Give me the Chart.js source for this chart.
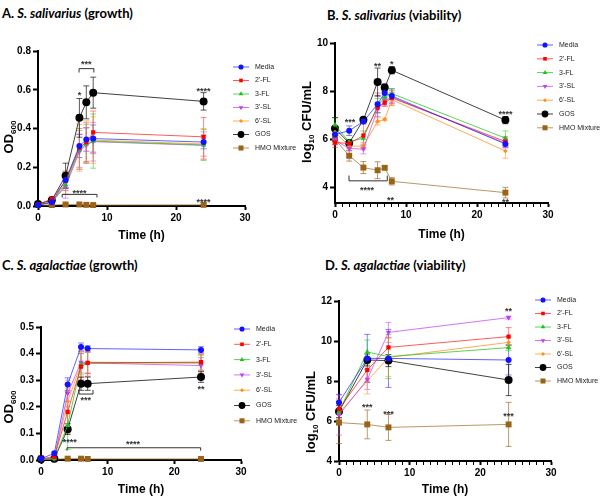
<!DOCTYPE html>
<html>
<head>
<meta charset="utf-8">
<script src="https://cdn.jsdelivr.net/npm/chart.js@4.4.1/dist/chart.umd.min.js"></script>
<style>
  body { margin:0; background:#fff; width:600px; height:497px; overflow:hidden; position:relative; font-family:'Liberation Sans', Arial, sans-serif; }
  canvas { position:absolute; }
  .ttl { position:absolute; font-family:Lato, 'Open Sans', sans-serif; font-weight:700; font-size:13px; white-space:nowrap; color:#000; line-height:16px; }
</style>
</head>
<body>
<div class="ttl" style="left:2px;top:5px">A. <i>S. salivarius</i> (growth)</div>
<div class="ttl" style="left:327px;top:7px">B. <i>S. salivarius</i> (viability)</div>
<div class="ttl" style="left:2px;top:257px">C. <i>S. agalactiae</i> (growth)</div>
<div class="ttl" style="left:325px;top:257px">D. <i>S. agalactiae</i> (viability)</div>
<canvas id="cA" width="300" height="225" style="left:0;top:25px"></canvas>
<canvas id="cB" width="300" height="225" style="left:300px;top:25px"></canvas>
<canvas id="cC" width="300" height="222" style="left:0;top:275px"></canvas>
<canvas id="cD" width="300" height="222" style="left:300px;top:275px"></canvas>
<script>
// series names shared by all four panels
const seriesNames = ['Media', "2'-FL", '3-FL', "3'-SL", "6'-SL", 'GOS', 'HMO Mixture'];
const xTickLabels = [0, 10, 20, 30];

// A. S. salivarius growth (OD600)
const timeA = [0, 2, 4, 6, 7, 8, 24];
const aMedia = [0.005, 0.02, 0.134, 0.31, 0.343, 0.348, 0.33];
const aFL2   = [0.01, 0.035, 0.13, 0.30, 0.33, 0.38, 0.357];
const aFL3   = [0.005, 0.02, 0.11, 0.29, 0.32, 0.335, 0.315];
const aSL3   = [0.005, 0.02, 0.10, 0.28, 0.315, 0.332, 0.313];
const aSL6   = [0.005, 0.02, 0.12, 0.30, 0.33, 0.34, 0.32];
const aGOS   = [0.01, 0.03, 0.156, 0.455, 0.535, 0.585, 0.54];
const aHMO   = [0.005, 0.005, 0.008, 0.008, 0.006, 0.005, 0.006];
const aMediaErr = [0.005, 0.01, 0.04, 0.06, 0.06, 0.07, 0.035];
const aFL2Err   = [0.005, 0.015, 0.05, 0.1, 0.1, 0.11, 0.1];
const aFL3Err   = [0.005, 0.01, 0.05, 0.1, 0.1, 0.14, 0.08];
const aSL3Err   = [0.005, 0.01, 0.06, 0.09, 0.09, 0.1, 0.07];
const aSL6Err   = [0.005, 0.01, 0.06, 0.12, 0.11, 0.12, 0.08];
const aGOSErr   = [0.005, 0.01, 0.065, 0.1, 0.085, 0.08, 0.045];
const aHMOErr   = [0.002, 0.002, 0.003, 0.003, 0.002, 0.002, 0.002];
const yTicksA = [0, 0.2, 0.4, 0.6, 0.8];
const notesA = [{x:6, y:0.58, t:'*'}, {x:7, y:0.74, t:'***'}, {x:24, y:0.60, t:'****'}, {x:6, y:0.075, t:'****'}, {x:24, y:0.03, t:'****'}];
const bracketsA = [{x1:5.95, x2:8.1, y:0.709, tick:-0.02}, {x1:3.5, x2:8.55, y:0.06, tick:-0.016}];

// B. S. salivarius viability (log10 CFU/mL)
const timeB = [0, 2, 4, 6, 7, 8, 24];
const bMedia = [6.2, 6.36, 6.74, 7.46, 7.93, 7.8, 5.81];
const bFL2   = [5.87, 5.83, 6.16, 7.32, 7.52, 7.72, 5.91];
const bFL3   = [6.6, 5.9, 6.05, 7.4, 7.75, 7.9, 6.05];
const bSL3   = [5.97, 5.62, 5.6, 7.25, 7.6, 7.75, 5.85];
const bSL6   = [6.3, 5.72, 5.72, 6.75, 6.83, 7.65, 5.52];
const bGOS   = [6.45, 5.85, 6.81, 8.38, 8.15, 8.87, 6.8];
const bHMO   = [6.0, 5.32, 4.83, 4.72, 4.82, 4.26, 3.79];
const bMediaErr = [0.2, 0.2, 0.1, 0.35, 0.2, 0.3, 0.15];
const bFL2Err   = [0.2, 0.15, 0.5, 0.6, 0.15, 0.3, 0.2];
const bFL3Err   = [0.3, 0.1, 0.3, 0.3, 0.2, 0.2, 0.3];
const bSL3Err   = [0.2, 0.1, 0.2, 0.3, 0.2, 0.2, 0.2];
const bSL6Err   = [0.2, 0.1, 0.15, 0.15, 0.05, 0.25, 0.3];
const bGOSErr   = [0.45, 0.1, 0.1, 0.58, 0.15, 0.15, 0.15];
const bHMOErr   = [0.2, 0.22, 0.25, 0.35, 0.05, 0.15, 0.22];
const yTicksB = [4, 6, 8, 10];
const notesB = [{x:2.1, y:6.8, t:'***'}, {x:6, y:9.12, t:'**'}, {x:8, y:9.18, t:'*'}, {x:24, y:7.12, t:'****'}, {x:4.5, y:3.98, t:'****'}, {x:7.8, y:3.55, t:'**'}, {x:24, y:3.45, t:'**'}];
const bracketsB = [{x1:1.97, x2:7.36, y:4.28, tick:0.22}];

// C. S. agalactiae growth (OD600)
const timeC = [0, 2, 4, 6, 7, 24];
const cMedia = [0.005, 0.025, 0.284, 0.425, 0.419, 0.414];
const cFL2   = [0.005, 0.012, 0.181, 0.351, 0.365, 0.368];
const cFL3   = [0.003, 0.005, 0.13, 0.36, 0.365, 0.365];
const cSL3   = [0.003, 0.005, 0.25, 0.367, 0.365, 0.355];
const cSL6   = [0.003, 0.005, 0.22, 0.36, 0.368, 0.365];
const cGOS   = [0.003, 0.005, 0.116, 0.287, 0.287, 0.312];
const cHMO   = [0.002, 0.003, 0.005, 0.005, 0.004, 0.004];
const cMediaErr = [0.01, 0.005, 0.025, 0.015, 0.01, 0.012];
const cFL2Err   = [0.012, 0.005, 0.08, 0.05, 0.05, 0.03];
const cFL3Err   = [0.005, 0.005, 0.09, 0.04, 0.04, 0.03];
const cSL3Err   = [0.005, 0.005, 0.05, 0.04, 0.04, 0.03];
const cSL6Err   = [0.005, 0.005, 0.05, 0.05, 0.04, 0.03];
const cGOSErr   = [0.003, 0.003, 0.02, 0.025, 0.025, 0.02];
const cHMOErr   = [0.002, 0.002, 0.002, 0.002, 0.002, 0.002];
const yTicksC = [0, 0.1, 0.2, 0.3, 0.4, 0.5];
const notesC = [{x:6.7, y:0.232, t:'***'}, {x:24, y:0.272, t:'**'}, {x:4.3, y:0.075, t:'****'}, {x:13.8, y:0.065, t:'****'}];
const bracketsC = [{x1:5.7, x2:7.8, y:0.248, tick:0.015}, {x1:3.9, x2:23.95, y:0.046, tick:-0.011}];

// D. S. agalactiae viability (log10 CFU/mL)
const timeD = [0, 4, 7, 24];
const dMedia = [6.93, 9.13, 9.13, 9.05];
const dFL2   = [6.6, 8.55, 9.68, 10.22];
const dFL3   = [6.47, 9.45, 9.22, 9.67];
const dSL3   = [6.3, 8.08, 10.43, 11.17];
const dSL6   = [6.4, 8.0, 9.18, 9.93];
const dGOS   = [6.47, 9.05, 9.02, 8.05];
const dHMO   = [5.92, 5.83, 5.68, 5.83];
const dMediaErr = [0.4, 1.2, 1.45, 0.75];
const dFL2Err   = [0.5, 0.6, 0.5, 0.45];
const dFL3Err   = [0.5, 0.6, 1.1, 0.15];
const dSL3Err   = [1.0, 0.5, 0.5, 0.08];
const dSL6Err   = [0.5, 0.65, 0.95, 0.3];
const dGOSErr   = [0.3, 0.3, 0.3, 0.78];
const dHMOErr   = [1.05, 0.72, 0.65, 1.1];
const yTicksD = [4, 6, 8, 10, 12];
const notesD = [{x:24, y:11.55, t:'**'}, {x:4, y:6.75, t:'***'}, {x:7, y:6.42, t:'***'}, {x:24, y:6.3, t:'***'}];

// styles
const lineColors = ['rgba(30,30,255,0.7)', 'rgba(255,20,20,0.7)', 'rgba(30,200,30,0.75)', 'rgba(200,70,240,0.75)', 'rgba(255,150,40,0.8)', 'rgba(0,0,0,0.75)', 'rgba(170,125,60,0.8)'];
const markColors = ['#1212ff', '#ff0000', '#1cc21c', '#c23ff0', '#ff901e', '#000000', '#9a6418'];
const errColors  = ['rgba(30,30,255,0.55)', 'rgba(255,20,20,0.5)', 'rgba(30,200,30,0.55)', 'rgba(200,70,240,0.55)', 'rgba(255,150,40,0.6)', 'rgba(0,0,0,0.65)', 'rgba(160,110,40,0.7)'];
const markStyles = ['circle', 'rect', 'triangle', 'triangle', 'rectRot', 'circle', 'rect'];
const markRot    = [0, 0, 0, 180, 0, 0, 0];
const markSize   = [3, 3, 3.1, 3.1, 2.3, 4, 4.2];

Chart.defaults.font.family = "'Liberation Sans', Arial, sans-serif";
Chart.defaults.color = '#000';

function drawMark(ctx, i, x, y, r) {
  const o = {pointStyle: markStyles[i], rotation: markRot[i], radius: r, borderWidth: 0};
  ctx.fillStyle = markColors[i];
  ctx.strokeStyle = markColors[i];
  if (Chart.helpers && Chart.helpers.drawPoint) { Chart.helpers.drawPoint(ctx, o, x, y); return; }
  ctx.beginPath(); ctx.arc(x, y, r, 0, Math.PI * 2); ctx.fill();
}

const panelPlugin = {
  id: 'panel',
  beforeDatasetsDraw(chart) {
    const {ctx, chartArea: ca, scales: {x, y}} = chart;
    ctx.save();
    ctx.beginPath(); ctx.rect(ca.left - 6, ca.top - 20, ca.width + 12, ca.height + 20); ctx.clip();
    chart.data.datasets.forEach(ds => {
      ctx.strokeStyle = ds.errColor; ctx.lineWidth = 1;
      ds.data.forEach((p, j) => {
        const e = ds.err[j];
        const px = x.getPixelForValue(p.x);
        const yt = y.getPixelForValue(p.y + e), yb = y.getPixelForValue(p.y - e);
        ctx.beginPath();
        ctx.moveTo(px, yt); ctx.lineTo(px, yb);
        ctx.moveTo(px - 3, yt); ctx.lineTo(px + 3, yt);
        ctx.moveTo(px - 3, yb); ctx.lineTo(px + 3, yb);
        ctx.stroke();
      });
    });
    ctx.restore();
  },
  afterDraw(chart, args, opts) {
    const {ctx, chartArea: ca, scales: {x, y}} = chart;
    ctx.save();
    // significance brackets and stars
    ctx.strokeStyle = '#333'; ctx.lineWidth = 1;
    (opts.brackets || []).forEach(b => {
      const x1 = x.getPixelForValue(b.x1), x2 = x.getPixelForValue(b.x2);
      const yy = y.getPixelForValue(b.y), yt = y.getPixelForValue(b.y + b.tick);
      ctx.beginPath();
      ctx.moveTo(x1, yt); ctx.lineTo(x1, yy); ctx.lineTo(x2, yy); ctx.lineTo(x2, yt);
      ctx.stroke();
    });
    ctx.fillStyle = '#333'; ctx.font = 'bold 9px "Liberation Sans", Arial';
    ctx.textAlign = 'center'; ctx.textBaseline = 'middle';
    (opts.notes || []).forEach(n => {
      ctx.fillText(n.t, x.getPixelForValue(n.x), y.getPixelForValue(n.y) + 2);
    });
    // legend: line + marker + label
    const L = opts.legend;
    ctx.font = '7px "Liberation Sans", Arial';
    ctx.textAlign = 'left';
    chart.data.datasets.forEach((ds, i) => {
      const yy = L.y + i * L.dy;
      ctx.strokeStyle = lineColors[i]; ctx.lineWidth = 1;
      ctx.beginPath(); ctx.moveTo(L.x, yy); ctx.lineTo(L.x + 16, yy); ctx.stroke();
      drawMark(ctx, i, L.x + 8, yy, markSize[i] * 0.85);
      ctx.fillStyle = '#222';
      ctx.fillText(ds.label, L.x + 22, yy);
    });
    // y axis title with subscript part
    const T = opts.yTitle;
    ctx.translate(T.x, (ca.top + ca.bottom) / 2 + T.shift);
    ctx.rotate(-Math.PI / 2);
    ctx.textAlign = 'left'; ctx.textBaseline = 'alphabetic'; ctx.fillStyle = '#000';
    const fonts = T.parts.map(p => `bold ${p[1]}px "Liberation Sans", Arial`);
    let w = 0;
    T.parts.forEach((p, k) => { ctx.font = fonts[k]; w += ctx.measureText(p[0]).width; });
    let cx = -w / 2;
    T.parts.forEach((p, k) => {
      ctx.font = fonts[k];
      ctx.fillText(p[0], cx, 4.5 + p[2]);
      cx += ctx.measureText(p[0]).width;
    });
    ctx.restore();
  }
};

function makeSets(times, vals, errs) {
  return vals.map((v, i) => ({
    label: seriesNames[i],
    data: v.map((yv, j) => ({x: times[j], y: yv})),
    err: errs[i],
    errColor: errColors[i],
    borderColor: lineColors[i],
    borderWidth: 1,
    pointStyle: markStyles[i],
    rotation: markRot[i],
    pointRadius: markSize[i],
    pointBackgroundColor: markColors[i],
    pointBorderColor: markColors[i],
    pointBorderWidth: 0,
    tension: 0,
    clip: false
  }));
}

function panel(id, g, sets, yMin, yMax, yTicks, yFmt, minorX, notes, brackets, yParts) {
  new Chart(document.getElementById(id), {
    type: 'line',
    data: {datasets: sets},
    options: {
      responsive: false, animation: false,
      layout: {padding: {left: 0, top: g.padT, right: g.padR, bottom: 0}},
      plugins: {
        legend: {display: false}, tooltip: {enabled: false},
        panel: {notes, brackets, legend: g.legend, yTitle: {parts: yParts, x: g.titleX, shift: g.titleShift}}
      },
      scales: {
        x: {
          type: 'linear', min: 0, max: 30,
          afterFit: s => { s.height = g.xH; },
          afterBuildTicks: s => {
            s.ticks = minorX ? Array.from({length: 31}, (_, i) => ({value: i})) : xTickLabels.map(v => ({value: v}));
          },
          border: {color: '#000', width: 2},
          grid: {drawOnChartArea: false, tickLength: 4, tickColor: '#000',
                 tickWidth: c => (c.tick && xTickLabels.includes(c.tick.value)) ? 2 : 1},
          ticks: {autoSkip: false, maxRotation: 0, padding: 2, font: {size: 10, weight: 'bold'},
                  callback: v => xTickLabels.includes(v) ? String(v) : ''},
          title: {display: true, text: 'Time (h)', font: {size: 12, weight: 'bold'}, padding: {top: 0, bottom: g.xTitlePad}}
        },
        y: {
          min: yMin, max: yMax,
          afterFit: s => { s.width = g.yW; },
          afterBuildTicks: s => { s.ticks = yTicks.map(v => ({value: v})); },
          border: {color: '#000', width: 2},
          grid: {drawOnChartArea: false, tickLength: 5, tickColor: '#000', tickWidth: 2},
          ticks: {padding: 2, font: {size: 10, weight: 'bold'}, callback: yFmt}
        }
      }
    },
    plugins: [panelPlugin]
  });
}

const fmt1 = v => v.toFixed(1);
const fmt0 = v => String(v);
const odTitle = [['OD', 13, 0], ['600', 8, 3]];
const cfuTitle = [['log', 13, 0], ['10', 8, 3], [' CFU/mL', 13, 0]];

panel('cA', {padT: 26, padR: 55, yW: 38, xH: 44, xTitlePad: 7, legend: {x: 233, y: 42, dy: 13.5}, titleX: 8, titleShift: 8.5},
  makeSets(timeA, [aMedia, aFL2, aFL3, aSL3, aSL6, aGOS, aHMO], [aMediaErr, aFL2Err, aFL3Err, aSL3Err, aSL6Err, aGOSErr, aHMOErr]),
  0, 0.8, yTicksA, fmt1, false, notesA, bracketsA, odTitle);

panel('cB', {padT: 18, padR: 52, yW: 35, xH: 47, xTitlePad: 8, legend: {x: 237, y: 20, dy: 13.8}, titleX: 6, titleShift: -1},
  makeSets(timeB, [bMedia, bFL2, bFL3, bSL3, bSL6, bGOS, bHMO], [bMediaErr, bFL2Err, bFL3Err, bSL3Err, bSL6Err, bGOSErr, bHMOErr]),
  3.36, 10, yTicksB, fmt0, true, notesB, bracketsB, cfuTitle);

panel('cC', {padT: 52, padR: 59, yW: 41, xH: 37, xTitlePad: 0, legend: {x: 234, y: 54, dy: 15.3}, titleX: 8, titleShift: 13.5},
  makeSets(timeC, [cMedia, cFL2, cFL3, cSL3, cSL6, cGOS, cHMO], [cMediaErr, cFL2Err, cFL3Err, cSL3Err, cSL6Err, cGOSErr, cHMOErr]),
  0, 0.5, yTicksC, fmt1, false, notesC, bracketsC, odTitle);

panel('cD', {padT: 26, padR: 49, yW: 39, xH: 36, xTitlePad: 0, legend: {x: 235, y: 25, dy: 13.5}, titleX: 10, titleShift: 31},
  makeSets(timeD, [dMedia, dFL2, dFL3, dSL3, dSL6, dGOS, dHMO], [dMediaErr, dFL2Err, dFL3Err, dSL3Err, dSL6Err, dGOSErr, dHMOErr]),
  4, 12, yTicksD, fmt0, true, notesD, [], cfuTitle);
</script>
</body>
</html>
